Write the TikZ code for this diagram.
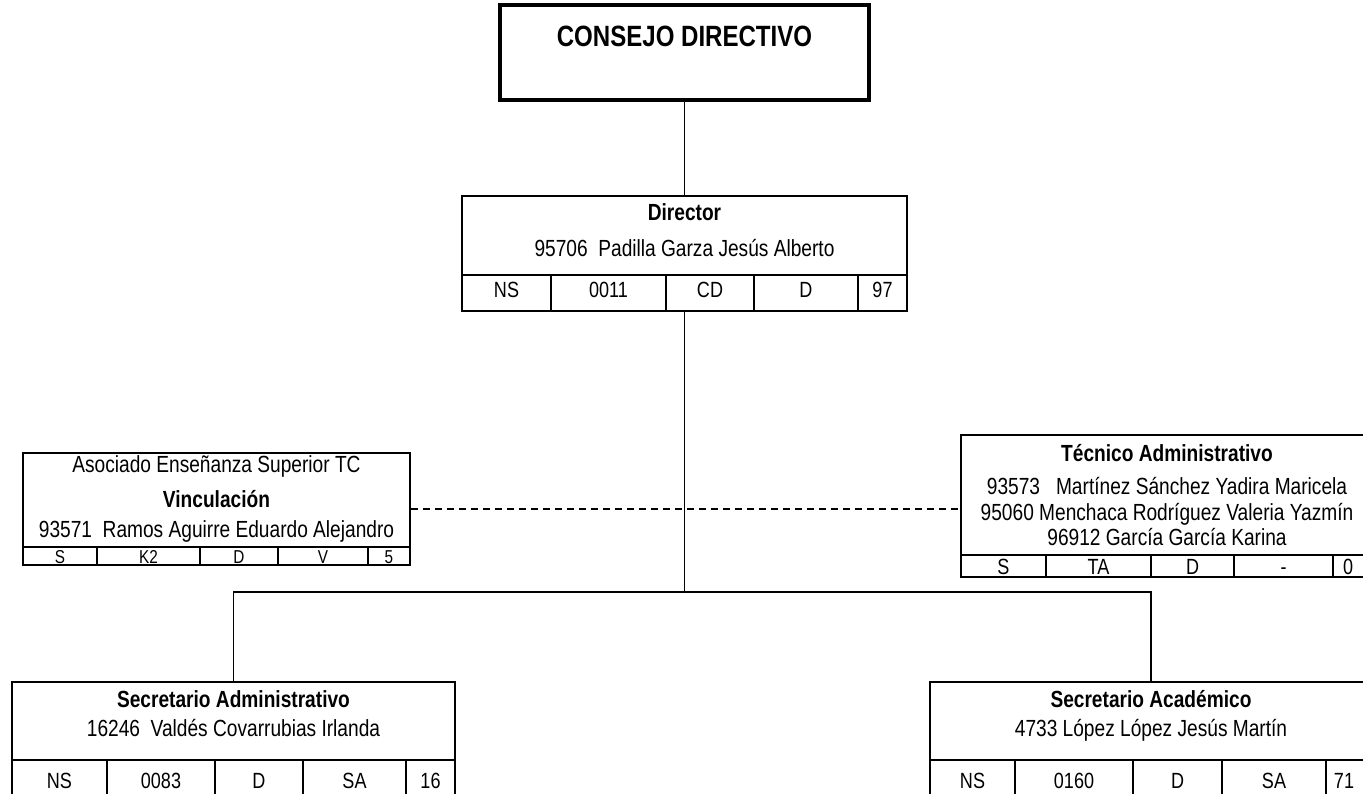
\documentclass[tikz,border=0pt]{standalone}
\usepackage{fontspec}
\setmainfont[FakeStretch=0.82]{Liberation Sans}
\usepackage{tikz}
\usetikzlibrary{calc,fit,positioning}

\begin{document}
\begin{tikzpicture}[x=0.75pt,y=-0.75pt,
	box/.style={draw,line width=1.5pt,inner sep=0pt},
	txt/.style={inner sep=0pt,text height=12.6pt,text depth=0pt,font=\fontsize{17.5}{21}\selectfont},
	hd/.style={txt,font=\fontsize{17.5}{21}\selectfont\bfseries},
	cell/.style={inner sep=0pt,text height=11.8pt,text depth=0pt,font=\fontsize{16.5}{20}\selectfont},
	smallcell/.style={cell,text height=10pt,font=\fontsize{14}{17}\selectfont},
	link/.style={line width=1.1pt},
	dashlink/.style={link,dash pattern=on 5pt off 4pt}]
	\clip (0,0) rectangle (1363,793);
	% consejo
	\node[box,line width=3.5pt,fit={(500,5) (869,100)}] (consejo) {};
	\node[txt,font=\fontsize{22}{26}\selectfont\bfseries,text height=15.8pt] (consejo-t) at (684.5,36) {CONSEJO DIRECTIVO};
	% director
	\node[box,fit={(462,196) (907,311)}] (dir) {};
	\node[hd] (dir-t) at (684.5,212) {Director};
	\node[txt] (dir-n) at (684.5,248) {95706\ \ Padilla Garza Jesús Alberto};
	\draw[box] (462,275) -- (907,275);
	\foreach \x in {551,666,754,858} \draw[box] (\x,275) -- (\x,311);
	\foreach \x/\t [count=\i] in {506.5/NS,608.5/0011,710/CD,806/D,882.5/97}
	  \node[cell] (dir-c\i) at (\x,290) {\t};
	% vinculacion
	\node[box,fit={(23,453) (410,565)}] (vinc) {};
	\node[txt] (vinc-p) at (216.5,464) {Asociado Enseñanza Superior TC};
	\node[hd] (vinc-t) at (216.5,499) {Vinculación};
	\node[txt] (vinc-n) at (216.5,529) {93571\ \ Ramos Aguirre Eduardo Alejandro};
	\draw[box] (23,547) -- (410,547);
	\foreach \x in {97,200,278,368} \draw[box] (\x,547) -- (\x,565);
	\foreach \x/\t [count=\i] in {60/S,148.5/K2,239/D,323/V,389/5}
	  \node[smallcell] (vinc-c\i) at (\x,556.5) {\t};
	% tecnico
	\node[box,fit={(961,435) (1372,577)}] (tec) {};
	\node[hd] (tec-t) at (1167,453) {Técnico Administrativo};
	\node[txt] (tec-n1) at (1167,486) {93573\ \ \ Martínez Sánchez Yadira Maricela};
	\node[txt] (tec-n2) at (1167,512) {95060 Menchaca Rodríguez Valeria Yazmín};
	\node[txt] (tec-n3) at (1167,537) {96912 García García Karina};
	\draw[box] (961,555) -- (1372,555);
	\foreach \x in {1046,1151,1234,1333} \draw[box] (\x,555) -- (\x,577);
	\foreach \x/\t [count=\i] in {1003.5/S,1098.5/TA,1192.5/D,1283.5/-,1348/0}
	  \node[cell] (tec-c\i) at (\x,566.5) {\t};
	% secretario administrativo
	\node[box,fit={(12,682) (455,810)}] (sadm) {};
	\node[hd] (sadm-t) at (233.5,699) {Secretario Administrativo};
	\node[txt] (sadm-n) at (233.5,728) {16246\ \ Valdés Covarrubias Irlanda};
	\draw[box] (12,760) -- (455,760);
	\foreach \x in {107,215,303,406} \draw[box] (\x,760) -- (\x,810);
	\foreach \x/\t [count=\i] in {59.5/NS,161/0083,259/D,354.5/SA,430.5/16}
	  \node[cell] (sadm-c\i) at (\x,781) {\t};
	% secretario academico
	\node[box,fit={(930,682) (1372,810)}] (sacad) {};
	\node[hd] (sacad-t) at (1151,699) {Secretario Académico};
	\node[txt] (sacad-n) at (1151,728) {4733 López López Jesús Martín};
	\draw[box] (930,760) -- (1372,760);
	\foreach \x in {1015,1133,1222,1326} \draw[box] (\x,760) -- (\x,810);
	\foreach \x/\t [count=\i] in {972.5/NS,1074/0160,1177.5/D,1274/SA,1344/71}
	  \node[cell] (sacad-c\i) at (\x,781) {\t};
	% lineas
	\coordinate (bus) at (0,592);
	\draw[link] (consejo.south) -- (dir.north);
	\draw[link] (dir.south) -- (dir.south |- bus);
	\draw[link] (sadm.north) |- (dir.south |- bus) -| (sacad.north);
	\draw[dashlink] (vinc.east) -- (vinc.east -| tec.west);
\end{tikzpicture}
\end{document}
